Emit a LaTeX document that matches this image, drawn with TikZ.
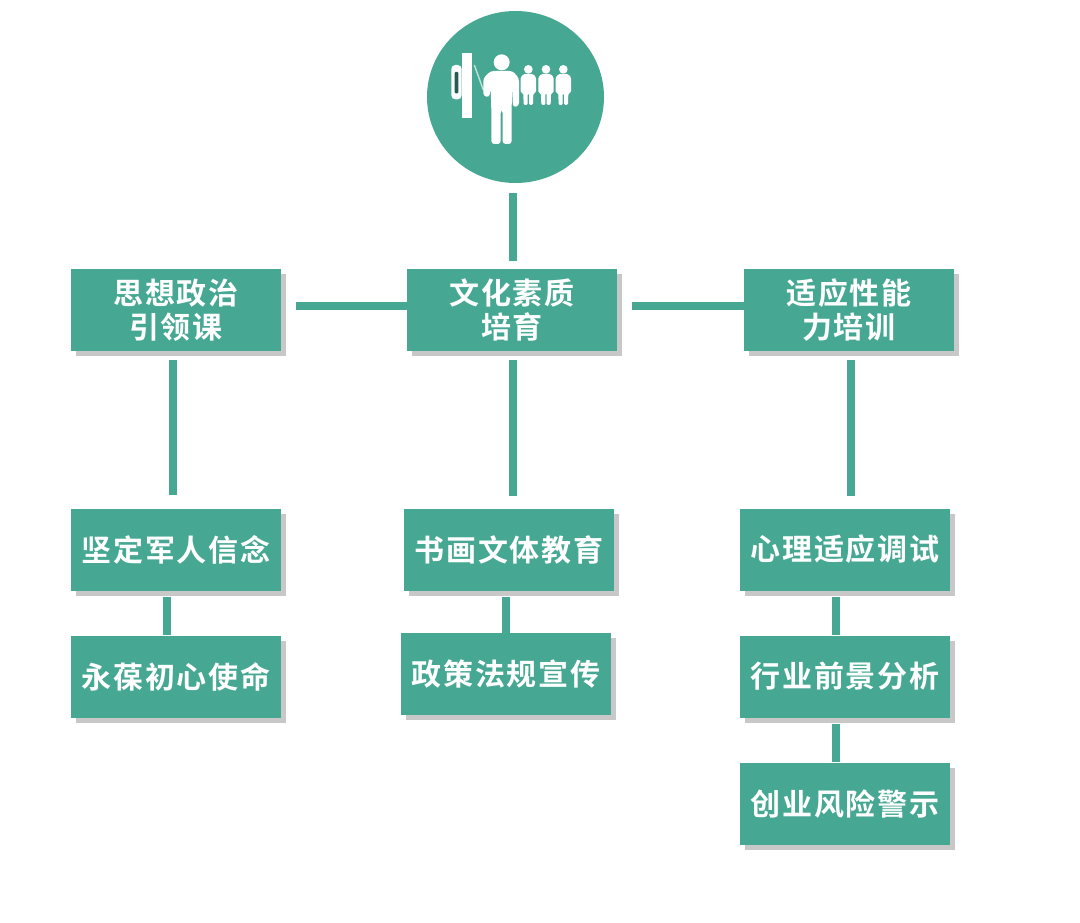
\documentclass[tikz,border=0pt]{standalone}
\usepackage{fontspec}
\newfontfamily\cjk[LetterSpace=6]{Noto Sans CJK SC Bold}
\usetikzlibrary{shapes.geometric,shadows}
\definecolor{teal1}{RGB}{70,168,146}
\definecolor{shade1}{RGB}{200,200,200}
\tikzset{
  cardbox/.style={rectangle,fill=teal1,minimum width=210pt,minimum height=82pt,inner sep=0pt,align=center,
    text=white,font=\cjk\fontsize{30}{34}\selectfont,
    drop shadow={shadow xshift=5pt,shadow yshift=-5pt,fill=shade1,opacity=1}},
  link/.style={draw=teal1,line width=8.5pt}
}
\begin{document}
\begin{tikzpicture}[x=1pt,y=-1pt]
\useasboundingbox (0,0) rectangle (1080,923);
\fill[white] (0,0) rectangle (1080,923);
\node[ellipse,fill=teal1,minimum width=177pt,minimum height=172pt,inner sep=0pt] (top) at (515.5,97) {};
\node[cardbox] (a1) at (176,310) {思想政治\\引领课};
\node[cardbox] (b1) at (512,310) {文化素质\\培育};
\node[cardbox] (c1) at (849,310) {适应性能\\力培训};
\node[cardbox] (a2) at (176,549.5) {坚定军人信念};
\node[cardbox] (a3) at (176,676.5) {永葆初心使命};
\node[cardbox] (b2) at (509,549.5) {书画文体教育};
\node[cardbox] (b3) at (506,674) {政策法规宣传};
\node[cardbox] (c2) at (845,549.5) {心理适应调试};
\node[cardbox] (c3) at (845,676.5) {行业前景分析};
\node[cardbox] (c4) at (845,803.5) {创业风险警示};

\draw[link] ([yshift=-10pt]top.south -| b1.north) ++(1,0) -- ([xshift=1pt,yshift=8pt]b1.north);
\draw[link] ([xshift=15pt,yshift=4pt]a1.east) -- ([yshift=4pt]b1.west);
\draw[link] ([xshift=15pt,yshift=4pt]b1.east) -- ([yshift=4pt]c1.west);
\draw[link] ([xshift=-3pt,yshift=-9pt]a1.south) -- ([xshift=-3pt,yshift=13pt]a2.north);
\draw[link] ([xshift=1pt,yshift=-9pt]b1.south) -- ([xshift=4pt,yshift=12pt]b2.north);
\draw[link] ([xshift=2pt,yshift=-9pt]c1.south) -- ([xshift=6pt,yshift=12pt]c2.north);
\draw[link] ([xshift=-9pt,yshift=-6pt]a2.south) -- ([xshift=-9pt]a3.north);
\draw[link] ([xshift=-3pt,yshift=-6pt]b2.south) -- ([xshift=0pt]b3.north);
\draw[link] ([xshift=-9pt,yshift=-6pt]c2.south) -- ([xshift=-9pt]c3.north);
\draw[link] ([xshift=-9pt,yshift=-6pt]c3.south) -- ([xshift=-9pt]c4.north);

% icon, in the coordinates of a 3x enlargement of the region at (420,10)
\begin{scope}[shift={(420,10)},x=0.33333pt,y=-0.33333pt]
  \fill[white] (125,128) rectangle (155,325);
  \fill[white,rounded corners=4pt] (94,165) rectangle (125,268);
  \fill[teal1!55!black,rounded corners=1pt] (104,186) rectangle (115,250);
  \draw[teal1!35!white,line width=1.4pt] (163,165) -- (190,240);
  % teacher
  \fill[white] (245,157) circle[radius=24];
  \fill[white,rounded corners=3pt]
    (212,183) -- (278,183) -- (297,205) -- (297,288) -- (279,292) -- (276,230) -- (275,300)
    -- (275,402) -- (248,402) -- (248,300) -- (242,300) -- (242,402) -- (214,402) -- (214,300)
    -- (212,235) -- (208,262) -- (190,258) -- (190,205) -- cycle;
  % learners
  \foreach \cx in {325,378,430}{
    \begin{scope}[shift={(\cx,0)}]
      \fill[white] (0,178) circle[radius=13];
      \fill[white,rounded corners=1.3pt]
        (-14,192) -- (14,192) -- (23,202) -- (23,248) -- (15,250) -- (14,285) -- (2,285) -- (2,250)
        -- (-2,250) -- (-2,285) -- (-14,285) -- (-15,250) -- (-23,248) -- (-23,202) -- cycle;
    \end{scope}
  }
\end{scope}
\end{tikzpicture}
\end{document}
